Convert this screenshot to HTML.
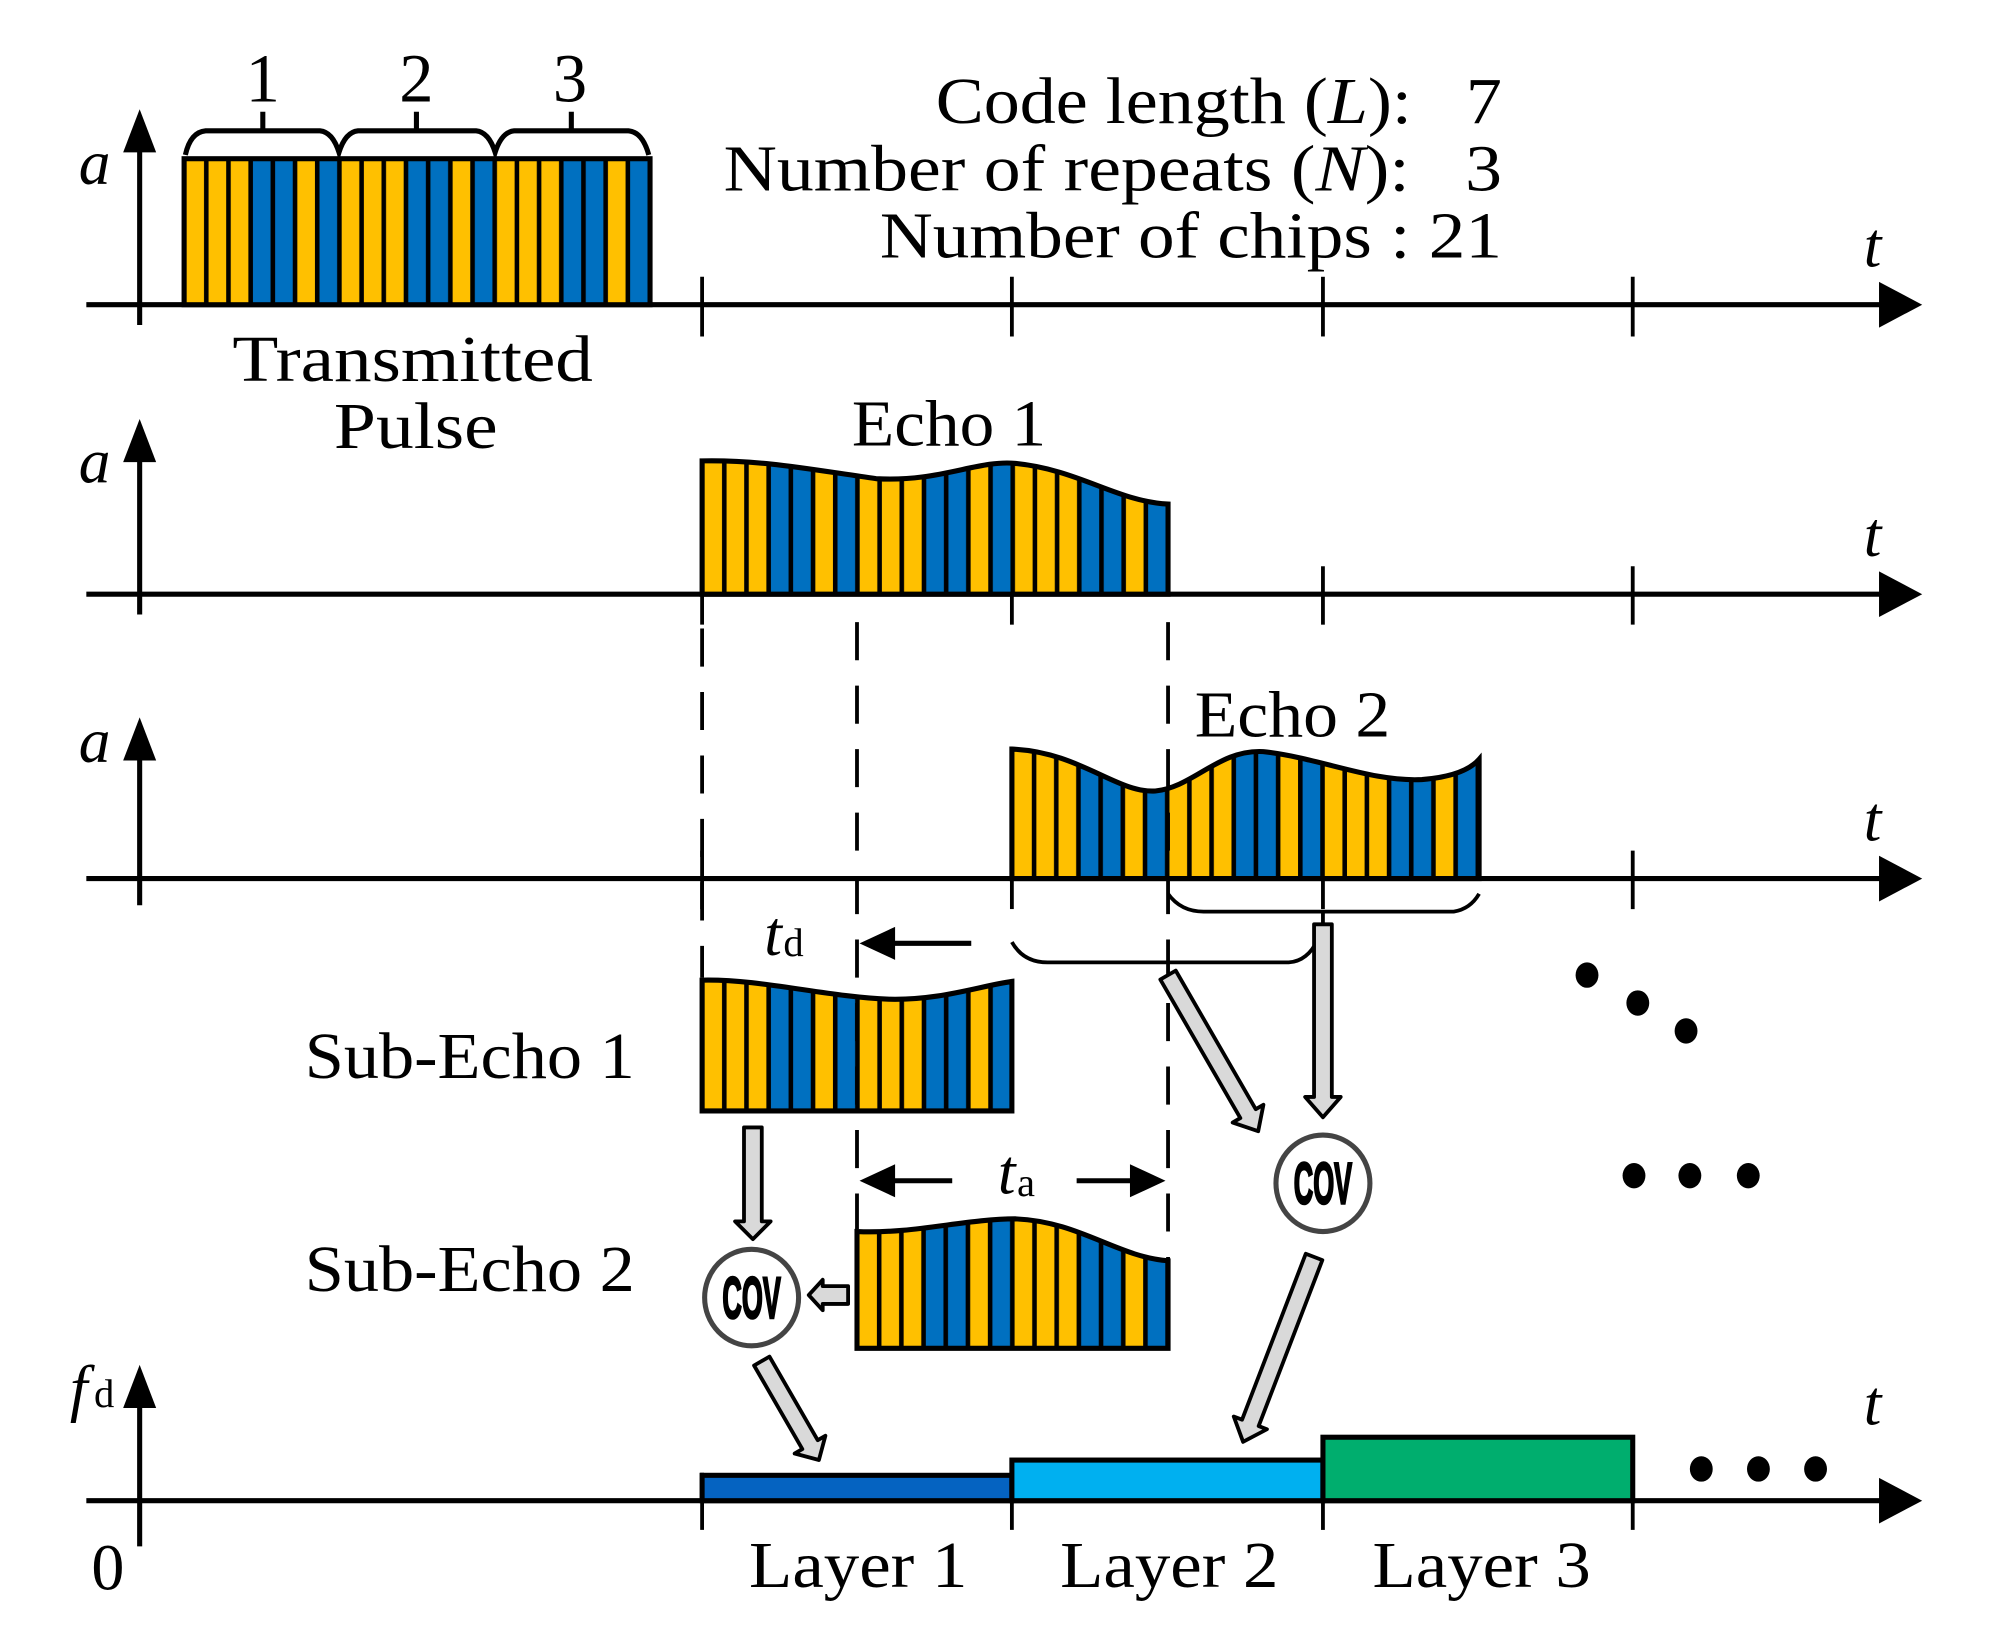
<!DOCTYPE html>
<html><head><meta charset="utf-8"><style>
html,body{margin:0;padding:0;background:#fff;}
svg{display:block;}
text{font-family:"Liberation Serif",serif;fill:#000;}
</style></head><body>
<svg width="1990" height="1632" viewBox="0 0 1567.4 1285.4" xmlns="http://www.w3.org/2000/svg">
<defs>
<g id="chips7">
<rect x="0" y="0" width="52.43" height="2000" fill="#FFC000"/>
<rect x="52.43" y="0" width="34.95" height="2000" fill="#0070C0"/>
<rect x="87.38" y="0" width="17.48" height="2000" fill="#FFC000"/>
<rect x="104.86" y="0" width="17.48" height="2000" fill="#0070C0"/>
<g stroke="#000" stroke-width="3.6">
<line x1="0" y1="0" x2="0" y2="2000"/><line x1="17.48" y1="0" x2="17.48" y2="2000"/><line x1="34.95" y1="0" x2="34.95" y2="2000"/><line x1="52.43" y1="0" x2="52.43" y2="2000"/><line x1="69.9" y1="0" x2="69.9" y2="2000"/><line x1="87.38" y1="0" x2="87.38" y2="2000"/><line x1="104.86" y1="0" x2="104.86" y2="2000"/><line x1="122.33" y1="0" x2="122.33" y2="2000"/>
</g>
</g>
<pattern id="p145" patternUnits="userSpaceOnUse" x="145" y="0" width="122.33" height="2000"><use href="#chips7"/></pattern>
<pattern id="p553" patternUnits="userSpaceOnUse" x="553" y="0" width="122.33" height="2000"><use href="#chips7"/></pattern>
<pattern id="p797" patternUnits="userSpaceOnUse" x="797" y="0" width="122.33" height="2000"><use href="#chips7"/></pattern>
<pattern id="p675" patternUnits="userSpaceOnUse" x="675" y="0" width="122.33" height="2000"><use href="#chips7"/></pattern>
</defs>

<g stroke="#000" stroke-width="4" fill="none">
<line x1="68" y1="240" x2="1485" y2="240"/>
<line x1="68" y1="468" x2="1485" y2="468"/>
<line x1="68" y1="692" x2="1485" y2="692"/>
<line x1="68" y1="1182" x2="1485" y2="1182"/>
<line x1="110" y1="110" x2="110" y2="256"/>
<line x1="110" y1="355" x2="110" y2="484"/>
<line x1="110" y1="590" x2="110" y2="713"/>
<line x1="110" y1="1100" x2="110" y2="1218"/>
</g>
<g stroke="#000" stroke-width="3">
<line x1="553" y1="218" x2="553" y2="265"/><line x1="797" y1="218" x2="797" y2="265"/><line x1="1042" y1="218" x2="1042" y2="265"/><line x1="1286" y1="218" x2="1286" y2="265"/>
<line x1="553" y1="446" x2="553" y2="492"/><line x1="797" y1="468" x2="797" y2="492"/><line x1="1042" y1="446" x2="1042" y2="492"/><line x1="1286" y1="446" x2="1286" y2="492"/>
<line x1="553" y1="670" x2="553" y2="716"/><line x1="797" y1="692" x2="797" y2="716"/><line x1="1042" y1="670" x2="1042" y2="716"/><line x1="1286" y1="670" x2="1286" y2="716"/>
<line x1="553" y1="1160" x2="553" y2="1205"/><line x1="797" y1="1160" x2="797" y2="1205"/><line x1="1042" y1="1160" x2="1042" y2="1205"/><line x1="1286" y1="1160" x2="1286" y2="1205"/>
</g>
<g fill="#000">
<polygon points="1480,222 1514,240 1480,258"/>
<polygon points="1480,450 1514,468 1480,486"/>
<polygon points="1480,674 1514,692 1480,710"/>
<polygon points="1480,1164 1514,1182 1480,1200"/>
<polygon points="110,86 97,120 123,120"/>
<polygon points="110,330 97,364 123,364"/>
<polygon points="110,565 97,599 123,599"/>
<polygon points="110,1075 97,1109 123,1109"/>
</g>

<rect x="145" y="125" width="367" height="115" fill="url(#p145)" stroke="#000" stroke-width="4"/>
<g stroke="#000" stroke-width="4" fill="none">
<path d="M146,122 Q150,104 162,103 L252,103 Q262,104 267,120 Q272,104 282,103 L375,103 Q385,104 390,120 Q395,104 405,103 L495,103 Q506,104 511,122"/>
<line x1="207" y1="88" x2="207" y2="103"/><line x1="328" y1="88" x2="328" y2="103"/><line x1="450" y1="88" x2="450" y2="103"/>
</g>
<g font-size="54"><text x="207" y="80" text-anchor="middle">1</text><text x="328" y="80" text-anchor="middle">2</text><text x="449" y="80" text-anchor="middle">3</text></g>

<g font-size="52" lengthAdjust="spacingAndGlyphs">
<text x="737" y="97" textLength="446" lengthAdjust="spacingAndGlyphs" xml:space="preserve">Code length (<tspan font-style="italic">L</tspan>):   7</text>
<text x="570" y="150" textLength="613" lengthAdjust="spacingAndGlyphs" xml:space="preserve">Number of repeats (<tspan font-style="italic">N</tspan>):   3</text>
<text x="693" y="203" textLength="490" lengthAdjust="spacingAndGlyphs">Number of chips : 21</text>
<text x="183" y="300" textLength="284" lengthAdjust="spacingAndGlyphs">Transmitted</text>
<text x="263" y="353" textLength="129" lengthAdjust="spacingAndGlyphs">Pulse</text>
<text x="671" y="351" textLength="153" lengthAdjust="spacingAndGlyphs">Echo 1</text>
<text x="941" y="580" textLength="154" lengthAdjust="spacingAndGlyphs">Echo 2</text>
<text x="240" y="849" textLength="260" lengthAdjust="spacingAndGlyphs">Sub-Echo 1</text>
<text x="240" y="1017" textLength="260" lengthAdjust="spacingAndGlyphs">Sub-Echo 2</text>
<text x="590" y="1250" textLength="172" lengthAdjust="spacingAndGlyphs">Layer 1</text>
<text x="835" y="1250" textLength="172" lengthAdjust="spacingAndGlyphs">Layer 2</text>
<text x="1081" y="1250" textLength="172" lengthAdjust="spacingAndGlyphs">Layer 3</text>
<text x="72" y="1252">0</text>
</g>
<g font-size="50" font-style="italic">
<text x="62" y="145">a</text><text x="62" y="380">a</text><text x="62" y="600">a</text>
<text x="55" y="1110">f</text>
<text x="1468" y="210">t</text><text x="1468" y="438">t</text><text x="1468" y="662">t</text><text x="1468" y="1122">t</text>
<text x="602" y="752">t</text><text x="786" y="940">t</text>
</g>
<g font-size="32"><text x="74" y="1108">d</text><text x="617" y="753">d</text><text x="801" y="942">a</text></g>

<path d="M553,468 L553,363 C600,362 640,370 690,377 C740,380 770,362 800,365 C850,370 880,395 920,397 L920,468 Z" fill="url(#p553)" stroke="#000" stroke-width="4"/>
<path d="M797,692 L797,590 C850,592 880,625 910,623 C940,620 960,590 995,592 C1040,597 1080,616 1120,614 C1145,612 1158,606 1165,598 L1165,692 Z" fill="url(#p797)" stroke="#000" stroke-width="4"/>
<path d="M553,875 L553,772 C600,771 650,785 700,787 C740,788 770,777 797,773 L797,875 Z" fill="url(#p553)" stroke="#000" stroke-width="4"/>
<path d="M675,1062 L675,970 C720,972 760,960 800,960 C850,962 880,990 920,993 L920,1062 Z" fill="url(#p675)" stroke="#000" stroke-width="4"/>

<g stroke="#000" stroke-width="3" stroke-dasharray="30,20" fill="none">
<line x1="553" y1="495" x2="553" y2="770"/>
<line x1="675" y1="490" x2="675" y2="968"/>
<line x1="920" y1="490" x2="920" y2="1062"/>
</g>

<g stroke="#000" stroke-width="4">
<line x1="700" y1="743" x2="765" y2="743"/>
<line x1="700" y1="930" x2="750" y2="930"/>
<line x1="848" y1="930" x2="895" y2="930"/>
</g>
<g fill="#000">
<polygon points="677,743 705,730 705,756"/>
<polygon points="677,930 705,917 705,943"/>
<polygon points="918,930 890,917 890,943"/>
</g>

<g stroke="#000" stroke-width="3" fill="none">
<path d="M920,704 Q930,718 948,718 L1145,718 Q1158,716 1165,704"/>
<path d="M797,742 Q806,758 825,758 L1015,758 Q1030,757 1038,740"/>
<line x1="1042" y1="718" x2="1042" y2="730"/>
</g>

<g fill="#d9d9d9" stroke="#000" stroke-width="3" stroke-linejoin="round">
<polygon transform="translate(1042,728)" points="-7,0 7,0 7,136 14,136 0,152 -14,136 -7,136"/>
<polygon transform="translate(920,768) rotate(-30)" points="-7,0 7,0 7,126 14,126 0,142 -14,126 -7,126"/>
<polygon transform="translate(1035,990) rotate(21)" points="-7,0 7,0 7,140 14,140 0,156 -14,140 -7,140"/>
<polygon transform="translate(593,888)" points="-7,0 7,0 7,74 14,74 0,88 -14,74 -7,74"/>
<polygon transform="translate(600,1072) rotate(-30)" points="-7,0 7,0 7,76 14,76 0,90 -14,76 -7,76"/>
<polygon transform="translate(668,1020) rotate(90)" points="-7,0 7,0 7,20 12,20 0,31 -12,20 -7,20"/>
</g>

<g fill="#fff" stroke="#444" stroke-width="4">
<ellipse cx="1042" cy="932" rx="37" ry="38"/>
<ellipse cx="592" cy="1022" rx="37" ry="38"/>
</g>
<g font-weight="bold" font-size="46">
<text x="1019" y="948" textLength="46" lengthAdjust="spacingAndGlyphs" stroke="#000" stroke-width="2" style="font-family:'Liberation Sans',sans-serif">COV</text>
<text x="569" y="1038" textLength="46" lengthAdjust="spacingAndGlyphs" stroke="#000" stroke-width="2" style="font-family:'Liberation Sans',sans-serif">COV</text>
</g>

<g stroke="#000" stroke-width="4">
<rect x="553" y="1162" width="244" height="20" fill="#0563C1"/>
<rect x="797" y="1150" width="245" height="32" fill="#00B0F0"/>
<rect x="1042" y="1132" width="244" height="50" fill="#00AE6E"/>
</g>

<g fill="#000">
<ellipse cx="1250" cy="768" rx="9" ry="10"/><ellipse cx="1290" cy="790" rx="9" ry="10"/><ellipse cx="1328" cy="812" rx="9" ry="10"/>
<ellipse cx="1287" cy="926" rx="9" ry="10"/><ellipse cx="1331" cy="926" rx="9" ry="10"/><ellipse cx="1377" cy="926" rx="9" ry="10"/>
<ellipse cx="1340" cy="1157" rx="9" ry="10"/><ellipse cx="1385" cy="1157" rx="9" ry="10"/><ellipse cx="1430" cy="1157" rx="9" ry="10"/>
</g>
</svg>
</body></html>
